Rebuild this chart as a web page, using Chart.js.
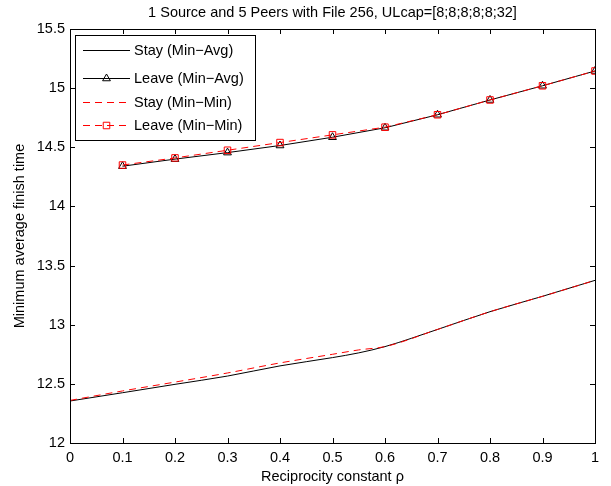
<!DOCTYPE html>
<html>
<head>
<meta charset="utf-8">
<script src="https://cdn.jsdelivr.net/npm/chart.js@4.4.1/dist/chart.umd.min.js"></script>
<style>
  html, body { margin: 0; padding: 0; background: #fff; }
  #wrap { width: 611px; height: 486px; position: relative; }
</style>
</head>
<body>
<div id="wrap"><canvas id="c" width="611" height="486"></canvas></div>
<script>
// ---- data ----
const chartTitle = "1 Source and 5 Peers with File 256, ULcap=[8;8;8;8;8;32]";
const xLabel = "Reciprocity constant \u03c1";
const yLabel = "Minimum average finish time";

const rhoStay = [0, 0.1, 0.2, 0.3, 0.4, 0.5, 0.55, 0.6, 0.7, 0.8, 0.9, 1.0];
const stayMinAvg = [12.355, 12.425, 12.496, 12.566, 12.652, 12.722, 12.762, 12.815, 12.96, 13.11, 13.24, 13.375];
const stayMinMin = [12.36, 12.44, 12.515, 12.592, 12.677, 12.75, 12.787, 12.815, 12.96, 13.11, 13.24, 13.375];

const rhoLeave = [0.1, 0.2, 0.3, 0.4, 0.5, 0.6, 0.7, 0.8, 0.9, 1.0];
const leaveMinAvg = [14.34, 14.40, 14.455, 14.515, 14.585, 14.665, 14.775, 14.90, 15.02, 15.145];
const leaveMinMin = [14.35, 14.41, 14.475, 14.54, 14.605, 14.67, 14.775, 14.90, 15.02, 15.145];

const xTicks = [0, 0.1, 0.2, 0.3, 0.4, 0.5, 0.6, 0.7, 0.8, 0.9, 1];
const yTicks = [12, 12.5, 13, 13.5, 14, 14.5, 15, 15.5];

const seriesNames = ["Stay (Min\u2212Avg)", "Leave (Min\u2212Avg)", "Stay (Min\u2212Min)", "Leave (Min\u2212Min)"];

const FONT = "'Liberation Sans', Arial, Helvetica, sans-serif";
const pts = (xs, ys) => xs.map((x, i) => ({ x: x, y: ys[i] }));
const DASH = [7, 5];

const datasets = [
  { label: seriesNames[0], data: pts(rhoStay, stayMinAvg), borderColor: '#000', borderWidth: 1,
    pointRadius: 0, cubicInterpolationMode: 'monotone', order: 4 },
  { label: seriesNames[1], data: pts(rhoLeave, leaveMinAvg), borderColor: '#000', borderWidth: 1,
    pointStyle: 'triangle', pointRadius: 4.5, pointBorderColor: '#000', pointBackgroundColor: 'rgba(0,0,0,0)',
    pointBorderWidth: 1, order: 3 },
  { label: seriesNames[2], data: pts(rhoStay, stayMinMin), borderColor: '#ff0000', borderWidth: 1,
    borderDash: DASH, pointRadius: 0, cubicInterpolationMode: 'monotone', order: 2 },
  { label: seriesNames[3], data: pts(rhoLeave, leaveMinMin), borderColor: '#ff0000', borderWidth: 1,
    borderDash: DASH, pointStyle: 'rect', pointRadius: 4.6, pointBorderColor: '#ff0000',
    pointBackgroundColor: 'rgba(0,0,0,0)', pointBorderWidth: 1, order: 1 }
];

const decor = {
  id: 'decor',
  afterDraw(chart) {
    const ctx = chart.ctx, a = chart.chartArea;
    const xs = chart.scales.x, ys = chart.scales.y;
    ctx.save();
    // box
    ctx.strokeStyle = '#000'; ctx.lineWidth = 1;
    ctx.strokeRect(Math.round(a.left) + 0.5, Math.round(a.top) + 0.5,
                   Math.round(a.right - a.left), Math.round(a.bottom - a.top));
    // inside tick marks
    const tl = 5;
    ctx.beginPath();
    xTicks.forEach(v => {
      const px = Math.round(xs.getPixelForValue(v)) + 0.5;
      ctx.moveTo(px, a.bottom); ctx.lineTo(px, a.bottom - tl);
      ctx.moveTo(px, a.top); ctx.lineTo(px, a.top + tl);
    });
    yTicks.forEach(v => {
      const py = Math.round(ys.getPixelForValue(v)) + 0.5;
      ctx.moveTo(a.left, py); ctx.lineTo(a.left + tl, py);
      ctx.moveTo(a.right, py); ctx.lineTo(a.right - tl, py);
    });
    ctx.stroke();

    // titles
    ctx.fillStyle = '#000';
    ctx.font = '14.5px ' + FONT;
    ctx.textAlign = 'center'; ctx.textBaseline = 'middle';
    ctx.fillText(chartTitle, (a.left + a.right) / 2, 13);
    ctx.fillText(xLabel, (a.left + a.right) / 2, 477);
    ctx.save();
    ctx.translate(20, (a.top + a.bottom) / 2);
    ctx.rotate(-Math.PI / 2);
    ctx.fillText(yLabel, 0, 0);
    ctx.restore();

    // legend
    const lx = a.left + 5, ly = a.top + 6, lw = 180, lh = 105;
    ctx.fillStyle = '#fff';
    ctx.fillRect(lx, ly, lw, lh);
    ctx.strokeStyle = '#000'; ctx.lineWidth = 1;
    ctx.strokeRect(Math.round(lx) + 0.5, Math.round(ly) + 0.5, lw, lh);
    const rowY = [15, 42.5, 66.5, 90];
    chart.data.datasets.forEach((ds, i) => {
      const y = Math.round(ly + rowY[i]) + 0.5;
      const x0 = lx + 8, x1 = lx + 55;
      ctx.save();
      ctx.strokeStyle = ds.borderColor; ctx.lineWidth = ds.borderWidth;
      ctx.setLineDash(ds.borderDash || []);
      ctx.beginPath(); ctx.moveTo(x0, y); ctx.lineTo(x1, y); ctx.stroke();
      ctx.restore();
      if (ds.pointRadius > 0) {
        ctx.save();
        ctx.setLineDash([]);
        ctx.fillStyle = 'rgba(0,0,0,0)';
        ctx.strokeStyle = ds.pointBorderColor; ctx.lineWidth = 1;
        Chart.helpers.drawPoint(ctx, {
          pointStyle: ds.pointStyle, radius: ds.pointRadius, borderWidth: 1, rotation: 0
        }, (x0 + x1) / 2, y);
        ctx.restore();
      }
      ctx.fillStyle = '#000';
      ctx.font = '14.5px ' + FONT;
      ctx.textAlign = 'left'; ctx.textBaseline = 'middle';
      ctx.fillText(ds.label, lx + 59, y + 0.5);
    });
    ctx.restore();
  }
};

new Chart(document.getElementById('c'), {
  type: 'line',
  data: { datasets: datasets },
  plugins: [decor],
  options: {
    responsive: false,
    animation: false,
    events: [],
    layout: { padding: { top: 29, right: 16, left: 0, bottom: 0 } },
    plugins: { legend: { display: false }, title: { display: false }, tooltip: { enabled: false } },
    scales: {
      x: {
        type: 'linear', min: 0, max: 1,
        afterBuildTicks: s => { s.ticks = xTicks.map(v => ({ value: v })); },
        afterFit: s => { s.height = 43; },
        grid: { display: false, drawTicks: false },
        border: { display: false },
        ticks: { color: '#000', font: { family: FONT, size: 14.5 }, padding: 6, maxRotation: 0,
                 callback: v => String(v) }
      },
      y: {
        type: 'linear', min: 12, max: 15.5,
        afterBuildTicks: s => { s.ticks = yTicks.map(v => ({ value: v })); },
        afterFit: s => { s.width = 70; },
        grid: { display: false, drawTicks: false },
        border: { display: false },
        ticks: { color: '#000', font: { family: FONT, size: 14.5 }, padding: 5,
                 callback: v => String(v) }
      }
    }
  }
});
</script>
</body>
</html>
